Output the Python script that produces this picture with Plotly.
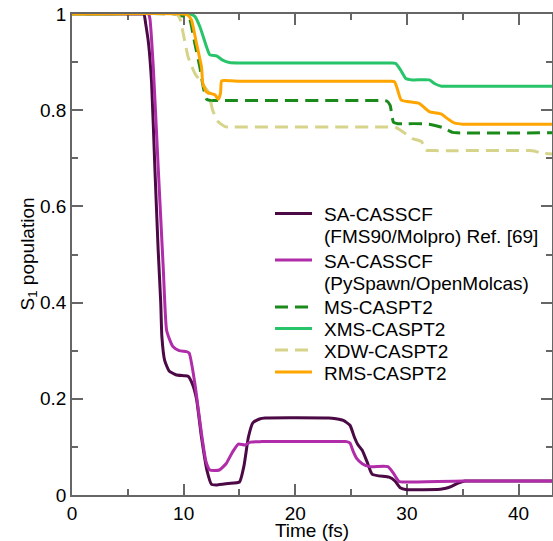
import plotly.graph_objects as go

# ---- data (time in fs, S1 population) ----
t_fms = [0, 6.3, 6.45, 6.6, 6.85, 7.13, 7.42, 7.72, 7.95, 8.05, 8.3, 8.7, 9.3, 10.0, 10.4, 10.8, 11.15,
         11.6, 12.1, 12.5, 13.0, 14.0, 15.0, 15.4, 15.8, 16.2, 16.8, 17.3, 23.0, 23.5, 24.3, 24.9, 25.3,
         25.6, 26.0, 26.5, 26.9, 28.4, 28.9, 29.4, 30.0, 30.5, 33.0, 33.5, 34.0, 34.6, 35.2, 35.7, 43]
p_fms = [1, 1, 1, 0.98, 0.94, 0.857, 0.682, 0.509, 0.40, 0.33, 0.28, 0.258, 0.25, 0.248, 0.247, 0.23, 0.2,
         0.12, 0.05, 0.022, 0.021, 0.024, 0.027, 0.06, 0.12, 0.15, 0.158, 0.16, 0.16, 0.159, 0.155, 0.145, 0.12,
         0.105, 0.093, 0.065, 0.043, 0.037, 0.03, 0.015, 0.011, 0.011, 0.012, 0.014, 0.018, 0.025, 0.029,
         0.029, 0.029]

t_pys = [0, 6.85, 6.98, 7.28, 7.72, 8.17, 8.47, 8.8, 9.06, 9.6, 10.26, 10.5, 11.0, 11.6, 12.0,
         12.35, 13.2, 13.8, 14.4, 14.9, 15.5, 16.0, 17.0, 24.2, 24.6, 24.9, 25.2, 25.5, 26.0, 26.7,
         28.3, 28.8, 29.3, 30.0, 35.0, 43]
p_pys = [1, 1, 0.99, 0.89, 0.682, 0.474, 0.343, 0.32, 0.308, 0.30, 0.298, 0.295, 0.233, 0.128, 0.07,
         0.052, 0.052, 0.065, 0.09, 0.106, 0.104, 0.11, 0.111, 0.111, 0.111, 0.108, 0.09, 0.076, 0.065, 0.059,
         0.059, 0.045, 0.028, 0.027, 0.029, 0.029]

t_ms = [0, 9.2, 9.9, 10.4, 10.55, 11.0, 11.45, 11.75, 12.05, 12.4, 12.8, 27.8, 28.2, 28.5, 28.8, 29.2,
        29.6, 31.6, 32.0, 33.2, 34.1, 34.5, 43]
p_ms = [1, 1, 0.996, 0.994, 0.99, 0.939, 0.89, 0.849, 0.823, 0.82, 0.82, 0.82, 0.819, 0.81, 0.775,
        0.772, 0.772, 0.772, 0.771, 0.764, 0.754, 0.753, 0.753]

t_xms = [0, 10.55, 11.0, 11.45, 12.05, 12.35, 12.95, 13.5, 14.1, 15.0, 28.6, 29.0, 29.4, 29.9, 30.5,
         32.0, 32.5, 33.1, 34.0, 43]
p_xms = [1, 1, 0.995, 0.974, 0.932, 0.915, 0.913, 0.904, 0.899, 0.898, 0.898, 0.897, 0.885, 0.866,
         0.863, 0.863, 0.855, 0.85, 0.85, 0.85]

t_xdw = [0, 9.2, 9.45, 9.66, 9.96, 10.4, 11.0, 11.75, 12.2, 12.6, 13.1, 13.7, 14.5, 28.6, 29.0, 29.4,
         30.5, 31.3, 31.7, 32.5, 41.0, 41.4, 42.0, 43]
p_xdw = [1, 1, 0.998, 0.991, 0.96, 0.911, 0.877, 0.852, 0.838, 0.80, 0.776, 0.766, 0.765, 0.765, 0.764,
         0.759, 0.741, 0.735, 0.717, 0.716, 0.716, 0.715, 0.711, 0.709]

t_rms = [0, 10.1, 10.4, 10.7, 11.15, 11.6, 11.72, 12.05, 12.8, 13.1, 13.3, 13.4, 13.7, 15.0, 28.5,
         28.9, 29.2, 29.5, 31.1, 32.0, 33.1, 33.6, 34.3, 35.0, 43]
p_rms = [1, 1, 0.997, 0.988, 0.939, 0.89, 0.856, 0.838, 0.832, 0.823, 0.835, 0.861, 0.862, 0.86, 0.86,
         0.859, 0.84, 0.821, 0.814, 0.797, 0.792, 0.783, 0.773, 0.771, 0.771]

names = [["SA-CASSCF", "(FMS90/Molpro) Ref. [69]"], ["SA-CASSCF", "(PySpawn/OpenMolcas)"],
         ["MS-CASPT2"], ["XMS-CASPT2"], ["XDW-CASPT2"], ["RMS-CASPT2"]]
times = [t_fms, t_pys, t_ms, t_xms, t_xdw, t_rms]
pops = [p_fms, p_pys, p_ms, p_xms, p_xdw, p_rms]
colors = ["#4B0A45", "#B02CA8", "#1A8A1A", "#27C46A", "#D6D48A", "#FFA500"]
dashes = ["solid", "solid", "13px,7px", "solid", "13px,7px", "solid"]

# ---- layout geometry (pixels) ----
W, H = 553, 541
L, R, T, B = 72, 1, 14, 46
PW, PH = W - L - R, H - T - B
def px2x(px):
    return (px - L) / PW
def py2y(py):
    return (H - B - py) / PH

fig = go.Figure()
for n, t, p, c, d in zip(names, times, pops, colors, dashes):
    fig.add_trace(go.Scatter(x=t, y=p, mode="lines", name=" ".join(n), showlegend=False,
                             line=dict(color=c, width=3, dash=d, shape="spline", smoothing=0.5)))

# ---- hand-placed legend (as in the reference) ----
row_first_line = [213.5, 260, 307, 328.5, 350, 372]  # y pixel of each entry's first text line
line_gap = 22
shapes, annotations = [], []
for n, c, d, yr in zip(names, colors, dashes, row_first_line):
    shapes.append(dict(type="line", xref="paper", yref="paper", x0=px2x(275), x1=px2x(312),
                       y0=py2y(yr), y1=py2y(yr), line=dict(color=c, width=3, dash=d), layer="above"))
    for k, txt in enumerate(n):
        annotations.append(dict(text=txt, xref="paper", yref="paper", x=px2x(322),
                                y=py2y(yr + k * line_gap + 1), xanchor="left", yanchor="middle",
                                showarrow=False, font=dict(size=19, color="black")))

annotations.append(dict(text="S<sub>1</sub> population", xref="paper", yref="paper",
                        x=px2x(28), y=0.5, xanchor="center", yanchor="middle",
                        textangle=-90, showarrow=False, font=dict(size=19, color="black")))

axis_common = dict(showline=True, linecolor="#666666", linewidth=1.5, mirror="allticks",
                   ticks="inside", ticklen=11, tickwidth=1.5, tickcolor="#666666",
                   showgrid=False, zeroline=False, layer="below traces", automargin=False,
                   tickfont=dict(size=19, color="black"))

fig.update_layout(
    width=W, height=H,
    margin=dict(l=L, r=R, t=T, b=B),
    paper_bgcolor="white", plot_bgcolor="white",
    font=dict(family="Liberation Sans, Arial, sans-serif", color="black"),
    xaxis=dict(range=[0, 43], dtick=10, tick0=0,
               minor=dict(dtick=5, ticklen=6, ticks="inside", tickcolor="#666666", tickwidth=1.5),
               title=dict(text="Time (fs)", font=dict(size=19), standoff=5),
               **axis_common),
    yaxis=dict(range=[0, 1], dtick=0.2, tick0=0,
               minor=dict(dtick=0.1, ticklen=6, ticks="inside", tickcolor="#666666", tickwidth=1.5),
               **axis_common),
    showlegend=False,
    shapes=shapes,
    annotations=annotations,
)

fig.write_html("out.html")
